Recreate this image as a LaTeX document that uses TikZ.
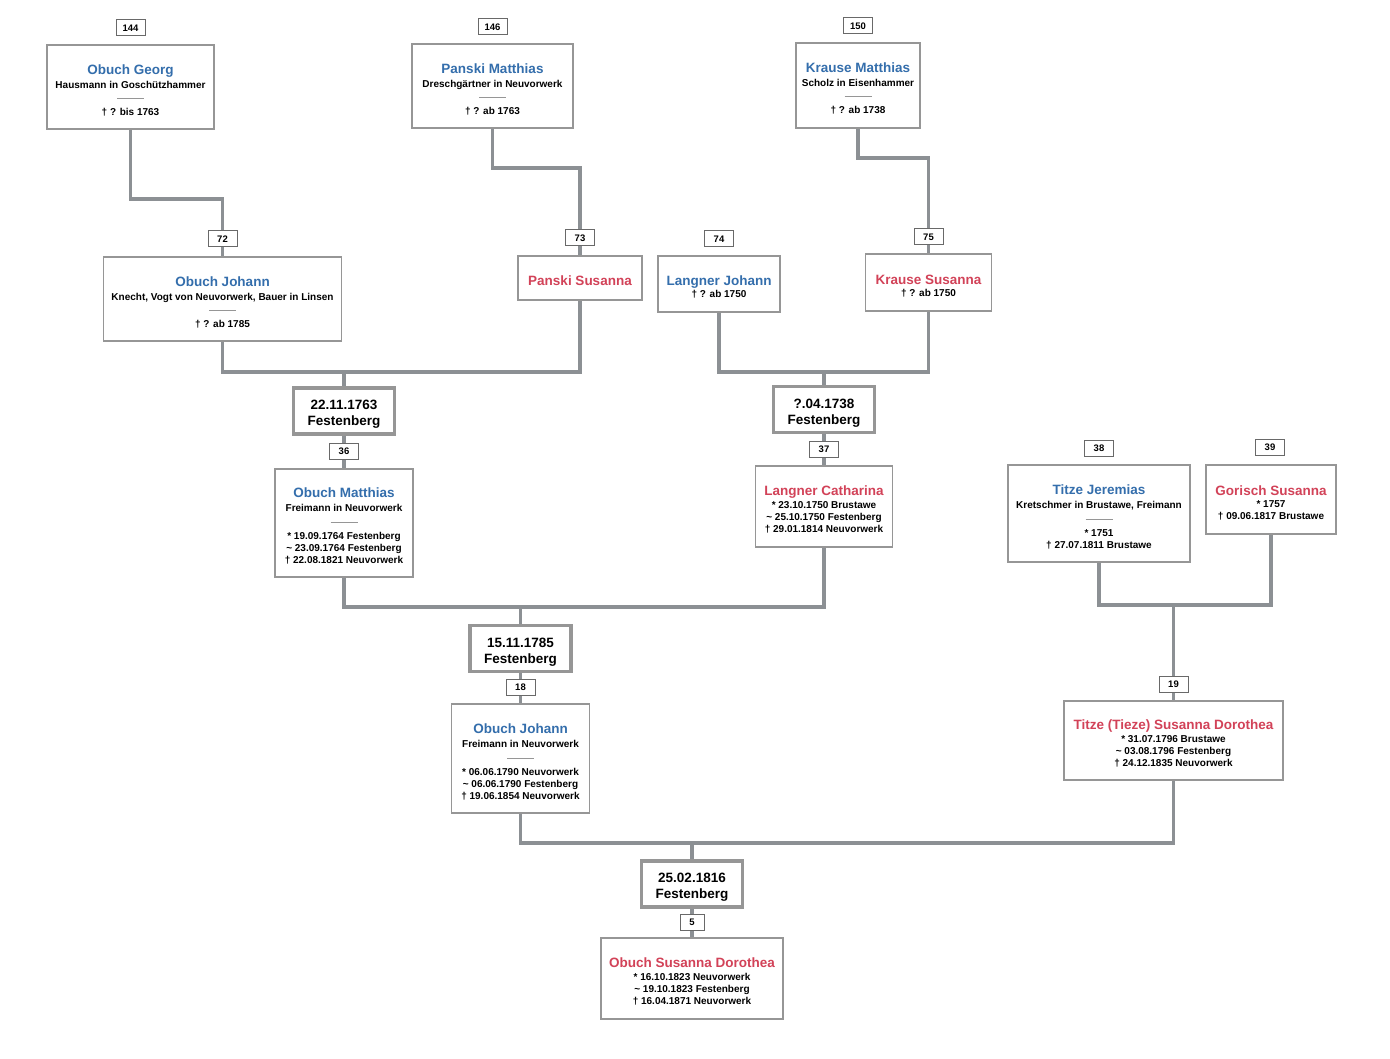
\documentclass[tikz,border=0pt]{standalone}
\usepackage{fontspec}
\setmainfont{Liberation Sans}
\usepackage{xcolor}
\usepackage{tikz}
\usetikzlibrary{positioning}
\definecolor{nameblue}{RGB}{52,110,172}
\definecolor{namered}{RGB}{210,66,88}
\definecolor{boxgray}{RGB}{150,150,150}
\definecolor{linkgray}{RGB}{140,144,148}
\definecolor{numgray}{RGB}{105,105,105}
\newcommand{\topstrut}{\rule{0pt}{16pt}}
\newcommand{\mname}[1]{{\topstrut\color{nameblue}\fontsize{13.5}{16}\selectfont #1}}
\newcommand{\fname}[1]{{\topstrut\color{namered}\fontsize{13.5}{16}\selectfont #1}}
\newcommand{\sepline}{{\color{boxgray}\rule[3pt]{27pt}{0.6pt}}}
\newcommand{\bapt}{\textasciitilde}

\begin{document}
\begin{tikzpicture}[
    x=1pt, y=-1pt,
    every node/.style={font=\bfseries\fontsize{10}{12}\selectfont},
    person/.style={draw=boxgray, line width=1.4pt, fill=white, align=center, inner sep=2pt},
    nr/.style={draw=numgray, line width=1pt, fill=white, minimum width=29pt, minimum height=16pt,
        inner sep=0pt, font=\bfseries\fontsize{9.5}{11}\selectfont},
    wedding/.style={draw=boxgray, line width=3.5pt, fill=white, align=center, minimum width=101pt,
        minimum height=46pt, font=\bfseries\fontsize{13.5}{16}\selectfont},
    link/.style={draw=linkgray, line width=3.5pt},
]
    \useasboundingbox[fill=white] (0,0) rectangle (1390,1059);

    % Generation V (great-great-grandparents)
    \node[nr] (n144) at (130.5,28) {144};
    \node[person, minimum width=167pt, minimum height=84pt] (p144) at (130.5,87)
        {\mname{Obuch Georg}\\[2pt] Hausmann in Goschützhammer\\[1pt] \sepline\\[2pt] † ? bis 1763};
    \node[nr] (n146) at (492.5,27) {146};
    \node[person, minimum width=161pt, minimum height=84pt] (p146) at (492.5,86)
        {\mname{Panski Matthias}\\[2pt] Dreschgärtner in Neuvorwerk\\[1pt] \sepline\\[2pt] † ? ab 1763};
    \node[nr] (n150) at (858,26) {150};
    \node[person, minimum width=124pt, minimum height=85pt] (p150) at (858,85.5)
        {\mname{Krause Matthias}\\[2pt] Scholz in Eisenhammer\\[1pt] \sepline\\[2pt] † ? ab 1738};

    % Generation IV
    \node[nr] (n72) at (222.5,239) {72};
    \node[person, minimum width=238pt, minimum height=84pt] (p72) at (222.5,299)
        {\mname{Obuch Johann}\\[2pt] Knecht, Vogt von Neuvorwerk, Bauer in Linsen\\[1pt] \sepline\\[2pt] † ? ab 1785};
    \node[nr] (n73) at (580,238) {73};
    \node[person, minimum width=124pt, minimum height=44pt] (p73) at (580,278)
        {\fname{Panski Susanna}};
    \node[nr] (n74) at (719,239) {74};
    \node[person, minimum width=122pt, minimum height=56pt] (p74) at (719,284)
        {\mname{Langner Johann}\\ † ? ab 1750};
    \node[nr] (n75) at (928.5,237) {75};
    \node[person, minimum width=126pt, minimum height=57pt] (p75) at (928.5,282.5)
        {\fname{Krause Susanna}\\ † ? ab 1750};

    % Marriages of generation IV
    \node[wedding] (m36) at (344,411) {\topstrut 22.11.1763\\Festenberg};
    \node[wedding] (m37) at (824,409.5) {\topstrut ?.04.1738\\Festenberg};

    % Generation III
    \node[nr] (n36) at (344,451) {36};
    \node[person, minimum width=138pt, minimum height=108pt] (p36) at (344,523)
        {\mname{Obuch Matthias}\\[2pt] Freimann in Neuvorwerk\\[2pt] \sepline\\[2pt]
         * 19.09.1764 Festenberg\\ \bapt{} 23.09.1764 Festenberg\\ † 22.08.1821 Neuvorwerk};
    \node[nr] (n37) at (824,449) {37};
    \node[person, minimum width=137pt, minimum height=81pt] (p37) at (824,506.5)
        {\fname{Langner Catharina}\\[1pt] * 23.10.1750 Brustawe\\ \bapt{} 25.10.1750 Festenberg\\ † 29.01.1814 Neuvorwerk};
    \node[nr] (n38) at (1099,448) {38};
    \node[person, minimum width=182pt, minimum height=97pt] (p38) at (1099,513.5)
        {\mname{Titze Jeremias}\\[2pt] Kretschmer in Brustawe, Freimann\\[2pt] \sepline\\[2pt] * 1751\\ † 27.07.1811 Brustawe};
    \node[nr] (n39) at (1270,447) {39};
    \node[person, minimum width=130pt, minimum height=69pt] (p39) at (1271,499.5)
        {\fname{Gorisch Susanna}\\ * 1757\\ † 09.06.1817 Brustawe};

    % Marriage of generation III
    \node[wedding] (m18) at (520.5,648.5) {\topstrut 15.11.1785\\Festenberg};

    % Generation II
    \node[nr] (n18) at (520.5,687) {18};
    \node[person, minimum width=138pt, minimum height=109pt] (p18) at (520.5,758.5)
        {\mname{Obuch Johann}\\[2pt] Freimann in Neuvorwerk\\[2pt] \sepline\\[2pt]
         * 06.06.1790 Neuvorwerk\\ \bapt{} 06.06.1790 Festenberg\\ † 19.06.1854 Neuvorwerk};
    \node[nr] (n19) at (1173.5,684) {19};
    \node[person, minimum width=219pt, minimum height=79pt] (p19) at (1173.5,740.5)
        {\fname{Titze (Tieze) Susanna Dorothea}\\[1pt] * 31.07.1796 Brustawe\\ \bapt{} 03.08.1796 Festenberg\\ † 24.12.1835 Neuvorwerk};

    % Marriage of generation II
    \node[wedding] (m5) at (692,884) {\topstrut 25.02.1816\\Festenberg};

    % Generation I
    \node[nr, minimum width=24pt] (n5) at (692,922) {5};
    \node[person, minimum width=182pt, minimum height=81pt] (p5) at (692,978.5)
        {\fname{Obuch Susanna Dorothea}\\[1pt] * 16.10.1823 Neuvorwerk\\ \bapt{} 19.10.1823 Festenberg\\ † 16.04.1871 Neuvorwerk};

    % Parent lines of generation V
    \coordinate (j72) at (176,199);
    \coordinate (j73) at (536,168);
    \coordinate (j75) at (893,158);
    \draw[link] (p144.south) |- (j72) -| (n72.north);
    \draw[link] (p146.south) |- (j73) -| (n73.north);
    \draw[link] (p150.south) |- (j75) -| (n75.north);
    \draw[link] (n72.south) -- (p72.north);
    \draw[link] (n73.south) -- (p73.north);
    \draw[link] (n75.south) -- (p75.north);

    % Family bars
    \coordinate (bar36) at (344,372);
    \draw[link] (p72.south) |- (bar36) -| (p73.south);
    \draw[link] (bar36) -- (m36.north);
    \draw[link] (m36.south) -- (n36.north);
    \draw[link] (n36.south) -- (p36.north);

    \coordinate (bar37) at (824,372);
    \draw[link] (p74.south) |- (bar37) -| (p75.south);
    \draw[link] (bar37) -- (m37.north);
    \draw[link] (m37.south) -- (n37.north);
    \draw[link] (n37.south) -- (p37.north);

    \coordinate (bar18) at (520.5,607);
    \draw[link] (p36.south) |- (bar18) -| (p37.south);
    \draw[link] (bar18) -- (m18.north);
    \draw[link] (m18.south) -- (n18.north);
    \draw[link] (n18.south) -- (p18.north);

    \coordinate (bar19) at (1173.5,605);
    \draw[link] (p38.south) |- (bar19) -| (p39.south);
    \draw[link] (bar19) -- (n19.north);
    \draw[link] (n19.south) -- (p19.north);

    \coordinate (bar5) at (692,843);
    \draw[link] (p18.south) |- (bar5) -| (p19.south);
    \draw[link] (bar5) -- (m5.north);
    \draw[link] (m5.south) -- (n5.north);
    \draw[link] (n5.south) -- (p5.north);
\end{tikzpicture}
\end{document}
